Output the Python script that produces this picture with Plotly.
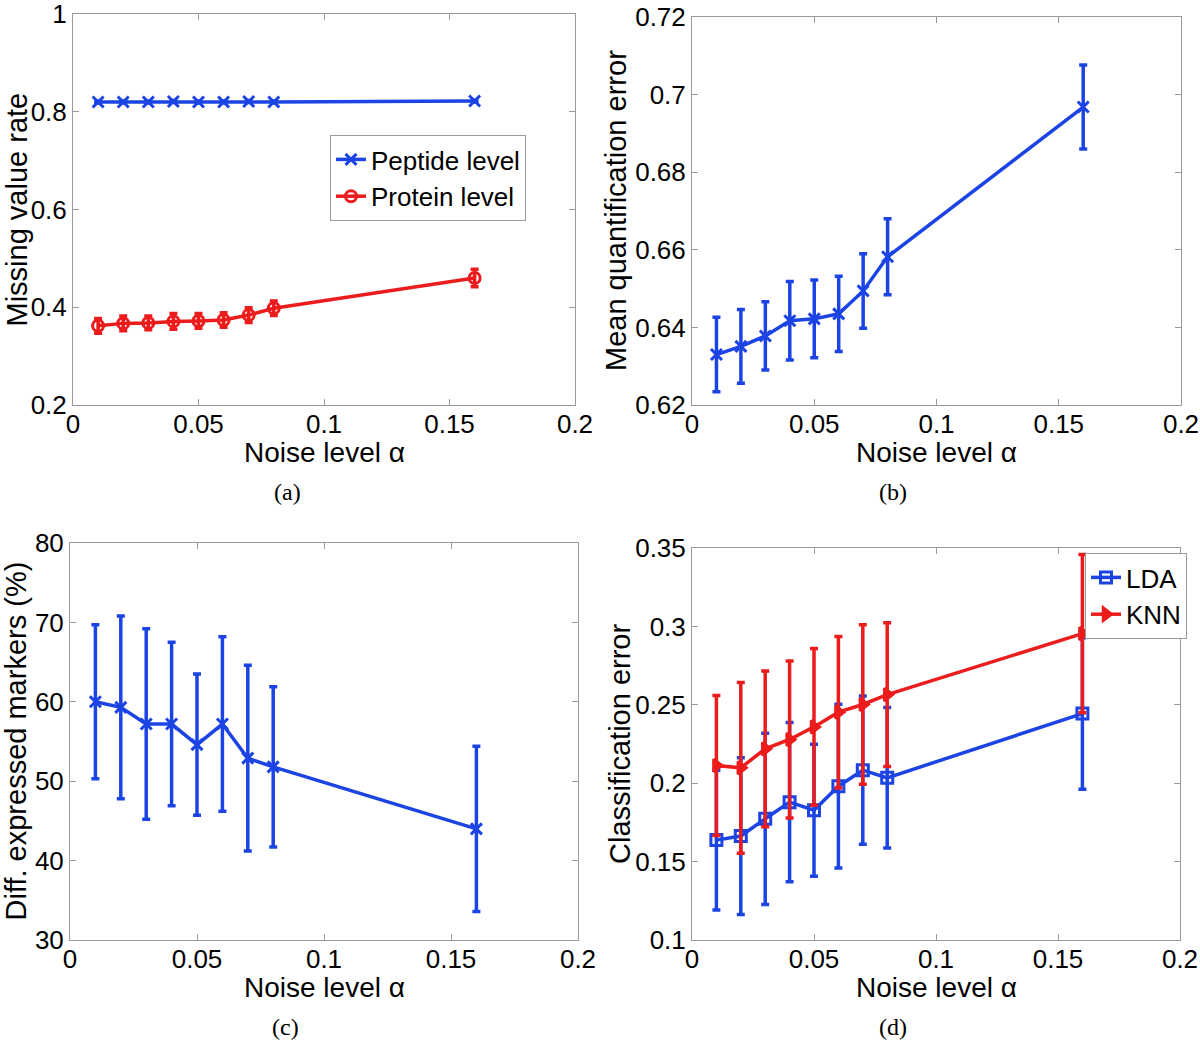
import plotly.graph_objects as go

# noise levels used in all four panels
noise = [0.01, 0.02, 0.03, 0.04, 0.05, 0.06, 0.07, 0.08, 0.16]

# (a) missing value rate
peptide_rate = [0.820, 0.820, 0.820, 0.821, 0.820, 0.820, 0.821, 0.820, 0.822]
peptide_err = [0.002, 0.002, 0.002, 0.002, 0.002, 0.002, 0.002, 0.002, 0.002]
protein_rate = [0.362, 0.367, 0.368, 0.371, 0.372, 0.374, 0.384, 0.398, 0.460]
protein_err = [0.015, 0.015, 0.014, 0.016, 0.015, 0.015, 0.015, 0.015, 0.018]

# (b) mean quantification error
quant_err = [0.6330, 0.6351, 0.6378, 0.6417, 0.6422, 0.6435, 0.6494, 0.6582, 0.6968]
quant_sd = [0.0096, 0.0095, 0.0088, 0.0101, 0.0100, 0.0097, 0.0096, 0.0098, 0.0108]

# (c) differentially expressed markers (%)
markers_pct = [60.0, 59.3, 57.2, 57.2, 54.6, 57.2, 52.9, 51.8, 44.0]
markers_sd = [9.7, 11.5, 12.0, 10.3, 8.9, 11.0, 11.7, 10.1, 10.4]

# (d) classification error
lda_err = [0.1637, 0.1663, 0.1773, 0.1879, 0.1828, 0.1981, 0.2083, 0.2034, 0.2444]
lda_sd = [0.0446, 0.0500, 0.0546, 0.0508, 0.0421, 0.0522, 0.0473, 0.0448, 0.0483]
knn_err = [0.2113, 0.2098, 0.2219, 0.2279, 0.2359, 0.2453, 0.2502, 0.2565, 0.2954]
knn_sd = [0.0447, 0.0544, 0.0496, 0.0501, 0.0500, 0.0483, 0.0508, 0.0459, 0.0505]

x_ticks = [0, 0.05, 0.1, 0.15, 0.2]
x_labels = ["0", "0.05", "0.1", "0.15", "0.2"]

BLUE = "#1c44e4"
RED = "#ec1c1c"
FONT = "Liberation Sans"
W, H = 1200, 1045


def trace(y, err, color, symbol, name, xa, ya, legend=None, show=False):
    return go.Scatter(
        x=noise, y=y, name=name, mode="lines+markers",
        line=dict(color=color, width=3.5),
        marker=dict(symbol=symbol, size=11, color=color,
                    line=dict(color=color, width=3)),
        error_y=dict(type="data", array=err, color=color, thickness=3.5, width=4),
        xaxis=xa, yaxis=ya, showlegend=show, legend=legend,
    )


fig = go.Figure()
fig.add_trace(trace(peptide_rate, peptide_err, BLUE, "x-thin-open", "Peptide level", "x", "y", "legend", True))
fig.add_trace(trace(protein_rate, protein_err, RED, "circle-open", "Protein level", "x", "y", "legend", True))
fig.add_trace(trace(quant_err, quant_sd, BLUE, "x-thin-open", "quant", "x2", "y2"))
fig.add_trace(trace(markers_pct, markers_sd, BLUE, "x-thin-open", "markers", "x3", "y3"))
fig.add_trace(trace(lda_err, lda_sd, BLUE, "square-open", "LDA", "x4", "y4", "legend2", True))
fig.add_trace(trace(knn_err, knn_sd, RED, "triangle-right", "KNN", "x4", "y4", "legend2", True))


def fx(px):
    return px / W


def fy(py):
    return 1 - py / H


axis_common = dict(
    showline=True, linecolor="#9a9a9a", linewidth=1, mirror="ticks",
    ticks="inside", ticklen=6, tickcolor="#9a9a9a", showgrid=False, zeroline=False,
    automargin=False, ticklabeloverflow="allow",
    tickfont=dict(family=FONT, size=26, color="black"),
)


def xaxis(left, right, anchor):
    return dict(axis_common, domain=[fx(left), fx(right)], anchor=anchor, range=[0, 0.2],
                tickvals=x_ticks, ticktext=x_labels, ticklabelstandoff=-4)


def yaxis(top, bottom, anchor, rng, vals, labels):
    return dict(axis_common, domain=[fy(bottom), fy(top)], anchor=anchor, range=rng,
                tickvals=vals, ticktext=labels)


# panel boxes in page pixels: left, right, top, bottom
boxes = {
    "a": (73, 575, 14, 405),
    "b": (692, 1181, 17, 405),
    "c": (70, 578, 543, 940),
    "d": (692, 1180, 548, 940),
}

fig.update_layout(
    width=W, height=H,
    margin=dict(l=0, r=0, t=0, b=0),
    paper_bgcolor="white", plot_bgcolor="white",
    font=dict(family=FONT, color="black"),
    xaxis=xaxis(boxes["a"][0], boxes["a"][1], "y"),
    yaxis=yaxis(boxes["a"][2], boxes["a"][3], "x", [0.2, 1], [0.2, 0.4, 0.6, 0.8, 1],
                ["0.2", "0.4", "0.6", "0.8", "1"]),
    xaxis2=xaxis(boxes["b"][0], boxes["b"][1], "y2"),
    yaxis2=yaxis(boxes["b"][2], boxes["b"][3], "x2", [0.62, 0.72], [0.62, 0.64, 0.66, 0.68, 0.7, 0.72],
                 ["0.62", "0.64", "0.66", "0.68", "0.7", "0.72"]),
    xaxis3=xaxis(boxes["c"][0], boxes["c"][1], "y3"),
    yaxis3=yaxis(boxes["c"][2], boxes["c"][3], "x3", [30, 80], [30, 40, 50, 60, 70, 80],
                 ["30", "40", "50", "60", "70", "80"]),
    xaxis4=xaxis(boxes["d"][0], boxes["d"][1], "y4"),
    yaxis4=yaxis(boxes["d"][2], boxes["d"][3], "x4", [0.1, 0.35], [0.1, 0.15, 0.2, 0.25, 0.3, 0.35],
                 ["0.1", "0.15", "0.2", "0.25", "0.3", "0.35"]),
    legend=dict(x=fx(330), y=fy(135), xanchor="left", yanchor="top", itemwidth=30,
                bordercolor="#9a9a9a", borderwidth=1, bgcolor="white",
                font=dict(family=FONT, size=26, color="black"), tracegroupgap=0),
    legend2=dict(x=fx(1085), y=fy(553), xanchor="left", yanchor="top", itemwidth=30,
                 bordercolor="#9a9a9a", borderwidth=1, bgcolor="white",
                 font=dict(family=FONT, size=26, color="black"), tracegroupgap=0),
)

# axis titles (x title under each panel, y title on the left)
y_titles = {
    "a": ("Missing value rate", 16),
    "b": ("Mean quantification error", 616),
    "c": ("Diff. expressed markers (%)", 15),
    "d": ("Classification error", 620),
}
for key, (left, right, top, bottom) in boxes.items():
    fig.add_annotation(text="Noise level α", x=fx((left + right) / 2), y=fy(bottom + 47),
                       xref="paper", yref="paper", xanchor="center", yanchor="middle",
                       showarrow=False, font=dict(family=FONT, size=28, color="black"))
    text, tx = y_titles[key]
    fig.add_annotation(text=text, x=fx(tx), y=fy((top + bottom) / 2), textangle=-90,
                       xref="paper", yref="paper", xanchor="center", yanchor="middle",
                       showarrow=False, font=dict(family=FONT, size=29, color="black"))

# panel labels
for text, cx, cy in [("(a)", 287, 492), ("(b)", 893, 492), ("(c)", 285, 1027), ("(d)", 893, 1027)]:
    fig.add_annotation(text=text, x=fx(cx), y=fy(cy), xref="paper", yref="paper",
                       xanchor="center", yanchor="middle", showarrow=False,
                       font=dict(family="Liberation Serif", size=24, color="black"))

# drop the default page margin so the figure sits at the window's corner
fig.write_html("out.html", config={"displayModeBar": False},
               post_script="document.body.style.margin = '0';")
